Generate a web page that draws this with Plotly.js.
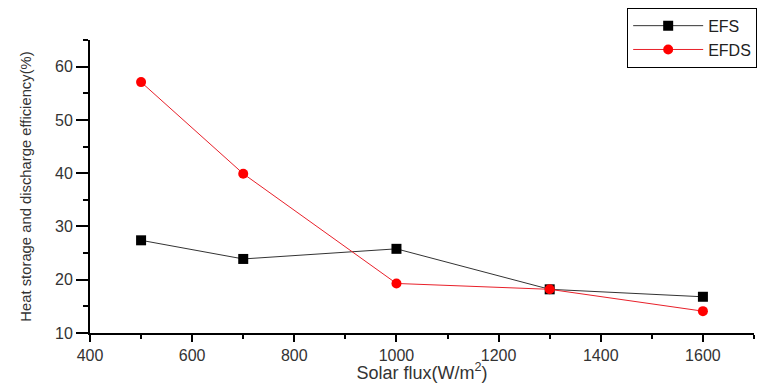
<!DOCTYPE html>
<html>
<head>
<meta charset="utf-8">
<script src="https://cdn.plot.ly/plotly-3.0.1.min.js"></script>
<style>html,body{margin:0;padding:0;background:#fff;}#chart{width:763px;height:383px;}</style>
</head>
<body>
<div id="chart"></div>
<script>
var solarFlux = [500, 700, 1000, 1300, 1600];
var efs = [27.4, 23.9, 25.8, 18.2, 16.8];
var efds = [57.1, 39.9, 19.3, 18.2, 14.1];
var seriesNames = ['EFS', 'EFDS'];
var xTitle = 'Solar flux(W/m<sup>2</sup>)';
var yTitle = 'Heat storage and discharge efficiency(%)';

var font = 'Liberation Sans, Arial, sans-serif';
var traces = [
  {x: solarFlux, y: efs, name: seriesNames[0], mode: 'lines+markers', type: 'scatter',
   line: {color: '#333', width: 1}, marker: {symbol: 'square', size: 10, color: '#000'}},
  {x: solarFlux, y: efds, name: seriesNames[1], mode: 'lines+markers', type: 'scatter',
   line: {color: '#e8202a', width: 1}, marker: {symbol: 'circle', size: 10, color: '#ff0000'}}
];
var layout = {
  width: 763, height: 383,
  margin: {l: 90, r: 9, t: 40, b: 50, autoexpand: false},
  paper_bgcolor: '#fff', plot_bgcolor: '#fff',
  font: {family: font, color: '#222', size: 15},
  showlegend: true,
  legend: {x: 0.809, y: 1.11, xanchor: 'left', yanchor: 'top', bgcolor: '#fff',
    bordercolor: '#000', borderwidth: 1, font: {family: font, size: 16, color: '#222'},
    tracegroupgap: 0, itemwidth: 70},
  xaxis: {range: [400, 1700], tick0: 400, dtick: 200, showgrid: false, zeroline: false,
    showline: true, linecolor: '#000', linewidth: 2, ticks: 'outside', ticklen: 7, tickwidth: 2,
    tickcolor: '#000', tickfont: {family: font, size: 16, color: '#333'},
    minor: {dtick: 100, tick0: 400, ticks: 'outside', ticklen: 4, tickwidth: 2, tickcolor: '#000', showgrid: false},
    title: {text: xTitle, font: {family: font, size: 18, color: '#333'}, standoff: 6}},
  yaxis: {range: [10, 65], tick0: 10, dtick: 10, showgrid: false, zeroline: false,
    showline: true, linecolor: '#000', linewidth: 2, ticks: 'outside', ticklen: 12, tickwidth: 2,
    tickcolor: '#000', tickfont: {family: font, size: 16, color: '#333'},
    minor: {dtick: 5, tick0: 10, ticks: 'outside', ticklen: 5, tickwidth: 2, tickcolor: '#000', showgrid: false},
    title: {text: yTitle, font: {family: font, size: 14.8, color: '#333'}, standoff: 20}}
};
Plotly.newPlot('chart', traces, layout, {displayModeBar: false, staticPlot: true});
</script>
</body>
</html>
